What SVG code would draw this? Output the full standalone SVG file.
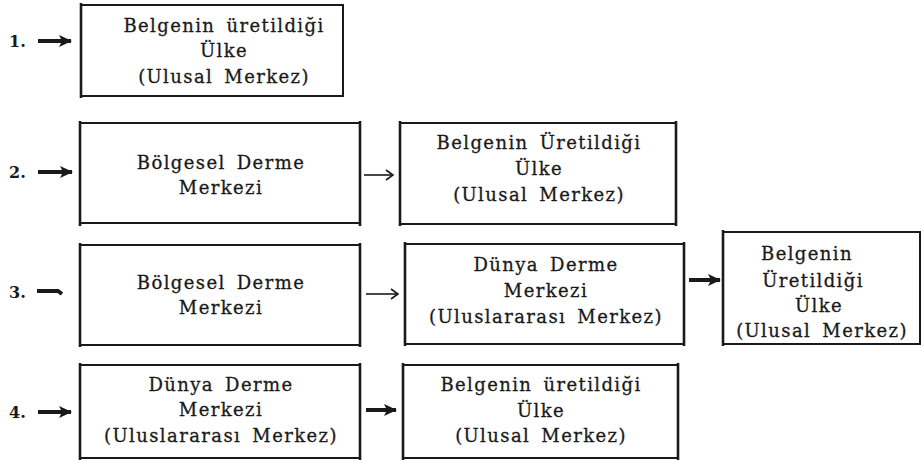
<svg xmlns="http://www.w3.org/2000/svg" width="923" height="469" viewBox="0 0 923 469">
<style>
.box{fill:none;stroke:#1a1a1a;stroke-width:2}
.side{stroke:#1a1a1a;stroke-width:2.6}
.t{font-family:"DejaVu Serif","Liberation Serif",serif;font-size:18px;letter-spacing:1.4px;word-spacing:4px;fill:#1a1a1a;stroke:#1a1a1a;stroke-width:0.3;text-anchor:middle}
.lbl{font-family:"DejaVu Serif","Liberation Serif",serif;font-size:16px;font-weight:bold;fill:#1a1a1a}
.thick{stroke:#1a1a1a;stroke-width:4;fill:none}
.thin{stroke:#1a1a1a;stroke-width:1.6;fill:none}
</style>
<defs>
<marker id="hb" markerUnits="userSpaceOnUse" markerWidth="14" markerHeight="14" refX="12" refY="7" orient="auto">
<path d="M0,1 L13,7 L0,13 L3,7 Z" fill="#1a1a1a"/>
</marker>
<marker id="ht" markerUnits="userSpaceOnUse" markerWidth="12" markerHeight="12" refX="10" refY="6" orient="auto">
<path d="M3,1 L10,6 L3,11" fill="none" stroke="#1a1a1a" stroke-width="1.6"/>
</marker>
</defs>
<rect width="923" height="469" fill="#ffffff"/>

<g id="labels">
<text class="lbl" x="9" y="47">1.</text>
<text class="lbl" x="9" y="178">2.</text>
<text class="lbl" x="9" y="298">3.</text>
<text class="lbl" x="9" y="418">4.</text>
</g>

<g id="connectors">
<line class="thick" x1="38" y1="41" x2="71" y2="41" marker-end="url(#hb)"/>
<line class="thick" x1="38" y1="172" x2="72" y2="172" marker-end="url(#hb)"/>
<path class="thick" d="M37,291 L58,291 L62,294"/>
<line class="thick" x1="38" y1="412" x2="71" y2="412" marker-end="url(#hb)"/>
<line class="thin" x1="364" y1="175" x2="393" y2="175" marker-end="url(#ht)"/>
<line class="thin" x1="366" y1="294" x2="398" y2="294" marker-end="url(#ht)"/>
<line class="thick" x1="689" y1="280" x2="720" y2="280" marker-end="url(#hb)"/>
<line class="thick" x1="366" y1="410" x2="396" y2="410" marker-end="url(#hb)"/>
</g>

<g id="n1">
<rect class="box" x="81" y="5" width="262" height="91"/>
<line class="side" x1="81" y1="3" x2="81" y2="98"/>
<text class="t" x="224" y="32">Belgenin üretildiği</text>
<text class="t" x="224" y="57">Ülke</text>
<text class="t" x="224" y="83">(Ulusal Merkez)</text>
</g>

<g id="n2a">
<rect class="box" x="80" y="123" width="280" height="100"/>
<line class="side" x1="80" y1="121" x2="80" y2="226"/>
<line class="side" x1="360" y1="121" x2="360" y2="226"/>
<text class="t" x="221" y="169">Bölgesel Derme</text>
<text class="t" x="221" y="194">Merkezi</text>
</g>

<g id="n2b">
<rect class="box" x="400" y="123" width="276" height="101"/>
<line class="side" x1="400" y1="121" x2="400" y2="226"/>
<line class="side" x1="676" y1="121" x2="676" y2="226"/>
<text class="t" x="539" y="149">Belgenin Üretildiği</text>
<text class="t" x="539" y="175">Ülke</text>
<text class="t" x="539" y="201">(Ulusal Merkez)</text>
</g>

<g id="n3a">
<rect class="box" x="80" y="245" width="280" height="100"/>
<line class="side" x1="80" y1="243" x2="80" y2="347"/>
<line class="side" x1="360" y1="243" x2="360" y2="347"/>
<text class="t" x="221" y="289">Bölgesel Derme</text>
<text class="t" x="221" y="314">Merkezi</text>
</g>

<g id="n3b">
<rect class="box" x="405" y="244" width="279" height="100"/>
<line class="side" x1="405" y1="242" x2="405" y2="346"/>
<line class="side" x1="684" y1="242" x2="684" y2="346"/>
<text class="t" x="546" y="271">Dünya Derme</text>
<text class="t" x="546" y="297">Merkezi</text>
<text class="t" x="546" y="323">(Uluslararası Merkez)</text>
</g>

<g id="n3c">
<rect class="box" x="723" y="232" width="197" height="112"/>
<line class="side" x1="723" y1="230" x2="723" y2="346"/>
<text class="t" x="807" y="260">Belgenin</text>
<text class="t" x="813" y="287">Üretildiği</text>
<text class="t" x="819" y="312">Ülke</text>
<text class="t" x="822" y="337">(Ulusal Merkez)</text>
</g>

<g id="n4a">
<rect class="box" x="80" y="365" width="280" height="93"/>
<line class="side" x1="80" y1="363" x2="80" y2="460"/>
<line class="side" x1="360" y1="363" x2="360" y2="460"/>
<text class="t" x="221" y="391">Dünya Derme</text>
<text class="t" x="221" y="416">Merkezi</text>
<text class="t" x="221" y="442">(Uluslararası Merkez)</text>
</g>

<g id="n4b">
<rect class="box" x="403" y="365" width="275" height="93"/>
<line class="side" x1="403" y1="363" x2="403" y2="460"/>
<line class="side" x1="678" y1="363" x2="678" y2="460"/>
<text class="t" x="541" y="391">Belgenin üretildiği</text>
<text class="t" x="541" y="417">Ülke</text>
<text class="t" x="541" y="442">(Ulusal Merkez)</text>
</g>
</svg>
